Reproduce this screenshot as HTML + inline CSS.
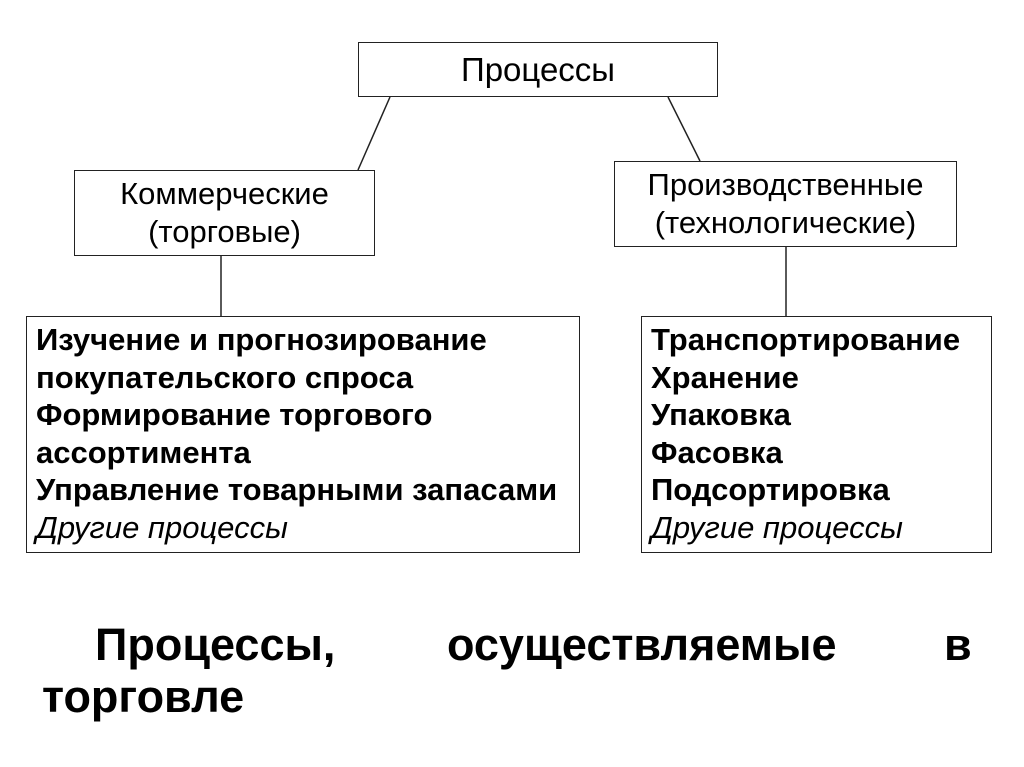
<!DOCTYPE html>
<html><head><meta charset="utf-8"><style>
body{margin:0;width:1024px;height:767px;background:#fff;position:relative;overflow:hidden;font-family:"Liberation Sans",Arial,sans-serif;color:#000}
.b{position:absolute;border:1.5px solid #222;box-sizing:border-box;background:#fff}
.c{display:flex;align-items:center;justify-content:center;text-align:center;font-size:31px;line-height:38px}
.l{font-size:31px;font-weight:bold;line-height:37.5px;padding:4px 0 0 9px;white-space:nowrap}
.l i{font-weight:normal}
svg{position:absolute;left:0;top:0}
.t{position:absolute;font-size:45px;font-weight:bold;line-height:52px}
</style></head><body>
<svg width="1024" height="767"><g stroke="#222" stroke-width="1.5">
<line x1="390" y1="97" x2="358" y2="170"/><line x1="668" y1="97" x2="700" y2="161"/>
<line x1="221" y1="256" x2="221" y2="316"/><line x1="786" y1="247" x2="786" y2="316"/></g></svg>
<div class="b c" style="left:358px;top:42px;width:360px;height:55px;font-size:33px">Процессы</div>
<div class="b c" style="left:74px;top:170px;width:301px;height:86px">Коммерческие<br>(торговые)</div>
<div class="b c" style="left:614px;top:161px;width:343px;height:86px">Производственные<br>(технологические)</div>
<div class="b l" style="left:26px;top:316px;width:554px;height:237px">Изучение и прогнозирование<br>покупательского спроса<br>Формирование торгового<br>ассортимента<br>Управление товарными запасами<br><i>Другие процессы</i></div>
<div class="b l" style="left:641px;top:316px;width:351px;height:237px">Транспортирование<br>Хранение<br>Упаковка<br>Фасовка<br>Подсортировка<br><i>Другие процессы</i></div>
<div class="t" style="left:95px;top:619px">Процессы,</div>
<div class="t" style="left:447px;top:619px">осуществляемые</div>
<div class="t" style="left:944px;top:619px">в</div>
<div class="t" style="left:42px;top:671px">торговле</div>
</body></html>
